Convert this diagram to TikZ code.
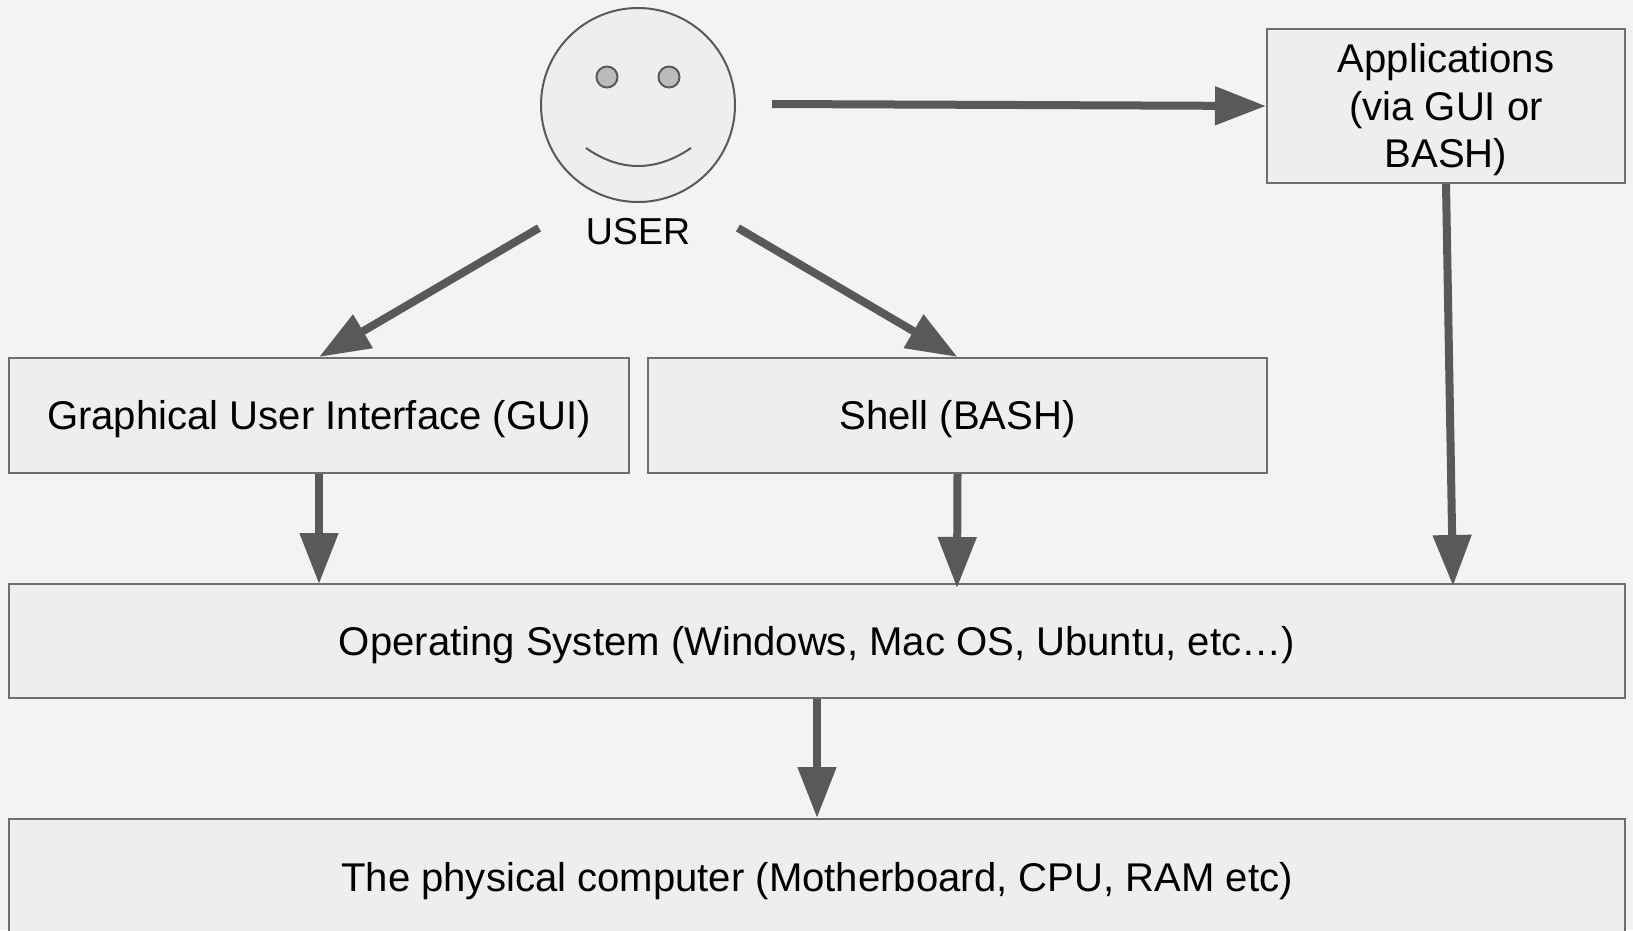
\documentclass[tikz,border=0pt]{standalone}
\usepackage{fontspec}
\setmainfont{Liberation Sans}
\usetikzlibrary{arrows.meta}
\definecolor{bgc}{HTML}{F3F3F3}
\definecolor{boxfill}{HTML}{EEEEEE}
\definecolor{boxline}{HTML}{6E6E6E}
\definecolor{arrowc}{HTML}{595959}
\definecolor{eyefill}{HTML}{BBBBBB}
\tikzset{
  box/.style={draw=boxline, line width=2pt, fill=boxfill, rectangle, inner sep=0pt},
  lbl/.style={inner sep=0pt, align=center, font=\fontsize{40.1}{47.5}\selectfont, text=black},
  conn/.style={draw=arrowc, line width=8pt, -{Triangle[length=51pt,width=37pt]}},
}
\begin{document}
\begin{tikzpicture}[x=1pt,y=-1pt]
\clip (0,0) rectangle (1633,930);
\fill[bgc] (0,0) rectangle (1633,930);
% face
\node[circle, draw=arrowc, line width=2pt, fill=boxfill, minimum size=194pt, inner sep=0pt] (face) at (638,105) {};
\node[circle, draw=arrowc, line width=2pt, fill=eyefill, minimum size=21pt, inner sep=0pt] (eyeL) at (607,77) {};
\node[circle, draw=arrowc, line width=2pt, fill=eyefill, minimum size=21pt, inner sep=0pt] (eyeR) at (669,77) {};
\draw[arrowc, line width=2pt] (586,148) .. controls (620,172) and (656,172) .. (691,148);
\node[lbl, font=\fontsize{37.5}{45}\selectfont] (user) at (638,232) {USER};
% boxes
\node[box, minimum width=358pt, minimum height=154pt] (app) at (1446,106) {};
\node[box, minimum width=620pt, minimum height=115pt] (gui) at (319,415.5) {};
\node[box, minimum width=619pt, minimum height=115pt] (shell) at (957.5,415.5) {};
\node[box, minimum width=1616pt, minimum height=114pt] (os) at (817,641) {};
\node[box, minimum width=1616pt, minimum height=120pt] (phys) at (817,879) {};
% labels
\node[lbl] (appT) at ([yshift=-4pt]app.center) {Applications\\(via GUI or\\BASH)};
\node[lbl] (guiT) at ([yshift=-4pt]gui.center) {Graphical User Interface (GUI)};
\node[lbl] (shellT) at ([yshift=-4pt]shell.center) {Shell (BASH)};
\node[lbl] (osT) at ([yshift=-4pt]os.center) {Operating System (Windows, Mac OS, Ubuntu, etc\dots)};
\node[lbl] (physT) at (817,881) {The physical computer (Motherboard, CPU, RAM etc)};
% connector ends
\coordinate (sA) at (772,104);
\coordinate (sL) at (539,228);
\coordinate (sR) at (738,228);
\coordinate (eG) at (319,584);
\coordinate (eS) at (957,588);
\coordinate (eA) at (1453,586);
% connectors
\draw[conn] (sA) -- (app.west);
\draw[conn] (sL) -- (gui.north);
\draw[conn] (sR) -- (shell.north);
\draw[conn] (gui.south) -- (eG);
\draw[conn] (shell.south) -- (eS);
\draw[conn] (app.south) -- (eA);
\draw[conn] (os.south) -- (phys.north);
\end{tikzpicture}
\end{document}
